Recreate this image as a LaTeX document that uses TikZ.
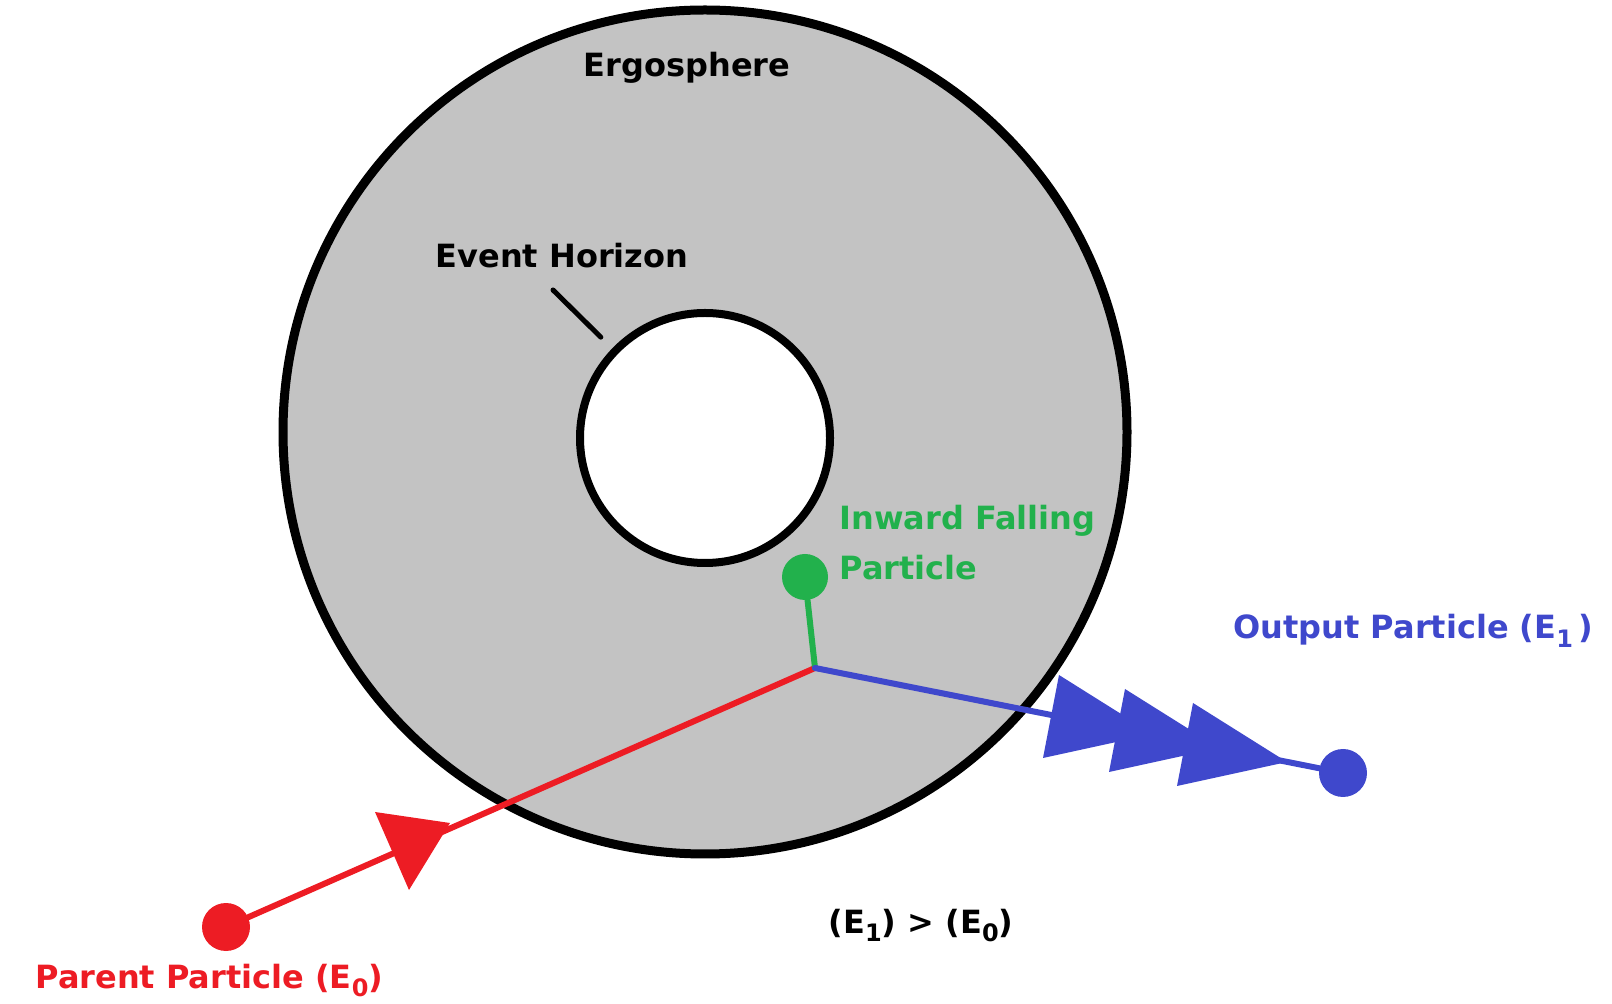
\documentclass[tikz,border=0pt]{standalone}
\usepackage{fontspec}
\setmainfont{DejaVu Sans}
\usepackage{tikz}
\usetikzlibrary{positioning}

\definecolor{ergogray}{HTML}{C3C3C3}
\definecolor{parentred}{HTML}{ED1C24}
\definecolor{fallgreen}{HTML}{22B14C}
\definecolor{outblue}{HTML}{3F48CC}
\newcommand{\lowidx}[1]{\raisebox{-0.5ex}{\fontsize{12}{12}\selectfont #1}}

\begin{document}
\begin{tikzpicture}[
  x=0.5pt, y=-0.5pt,
  font=\fontsize{16}{25}\selectfont\bfseries,
  ring/.style={circle, draw=black, inner sep=0pt},
  dot/.style={circle, inner sep=0pt, minimum size=24pt},
  lbl/.style={inner sep=0pt},
  ray/.style={line width=3pt, line cap=round}
]
\useasboundingbox (0,0) rectangle (1612,1004);
% ergosphere and horizon
\node[ring, fill=ergogray, line width=4.5pt, minimum size=422pt] (ergo) at (705,432) {};
\node[ring, fill=white, line width=4pt, minimum size=125pt] (horizon) at (705,438) {};
\node[lbl, anchor=base] (ergolbl) at (687,77) {Ergosphere};
\node[lbl, anchor=base] (horizonlbl) at (562,268) {Event Horizon};
\coordinate (ptr) at (553,290);
\draw[line width=2.5pt, line cap=round, shorten >=8pt] (ptr) -- (horizon.136);
% particles
\coordinate (split) at (815,668);
\node[dot, fill=fallgreen, minimum size=23pt] (fall) at (805,577) {};
\node[dot, fill=parentred] (parent) at (226,927) {};
\node[dot, fill=outblue] (out) at (1343,773) {};
\draw[ray, parentred] (parent) -- (split);
\draw[ray, fallgreen] (split) -- (fall);
\draw[ray, outblue] (split) -- (out);
% direction marks
\fill[parentred] (375,812) -- (450,823) -- (409,890) -- cycle;
\foreach \dx/\dy in {0/0, 66/14, 134/28}
  \fill[outblue] (1059+\dx,675+\dy) -- ++(-16,83) -- ++(110,-24) -- cycle;
% labels
\node[lbl, anchor=west, align=left, text=fallgreen] (falllbl) at (839,543) {Inward Falling\\Particle};
\node[lbl, anchor=base west, text=outblue] (outlbl) at (1233,639) {Output Particle (E\lowidx{1}\,)};
\node[lbl, anchor=base west, text=parentred] (parentlbl) at (35,988) {Parent Particle (E\lowidx{0})};
\node[lbl, anchor=base] (gain) at (921,933) {(E\lowidx{1}) > (E\lowidx{0})};
\end{tikzpicture}
\end{document}
